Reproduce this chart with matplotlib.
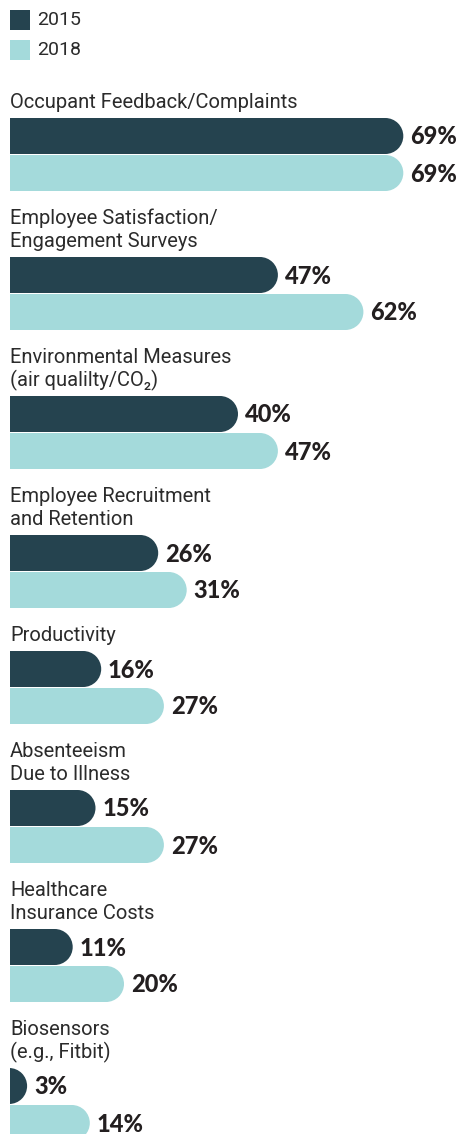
import matplotlib.pyplot as plt
from matplotlib.patches import Ellipse, Rectangle

# data
labels = ['Occupant Feedback/Complaints',
          'Employee Satisfaction/\nEngagement Surveys',
          'Environmental Measures\n(air qualilty/CO\u2082)',
          'Employee Recruitment\nand Retention',
          'Productivity',
          'Absenteeism\nDue to Illness',
          'Healthcare\nInsurance Costs',
          'Biosensors\n(e.g., Fitbit)']
vals_2015 = [69, 47, 40, 26, 16, 15, 11, 3]
vals_2018 = [69, 62, 47, 31, 27, 27, 20, 14]
years = ['2015', '2018']

dark = '#25434f'
light = '#a4dadb'
txt = '#2b2b2b'
label_font = ['Roboto', 'DejaVu Sans']
value_font = ['Lato', 'DejaVu Sans']

W, H = 463, 1134
px_per_pct = 5.7          # horizontal scale
bar_h = 36                # px
bar_pitch = 37
line_h = 23
pad = 20

fig = plt.figure(figsize=(W / 100, H / 100), dpi=100)
# axes starts where the bars start, so the left side of the bars is flat
ax = fig.add_axes([10 / W, 0, (W - 10) / W, 1])
ax.set_xlim(0, (W - 10) / px_per_pct)
ax.set_ylim(H, 0)
ax.axis('off')

r = bar_h / 2 / px_per_pct  # cap radius in percent units


def rounded_bar(v, yc, color):
    ax.add_patch(Rectangle((-r, yc - bar_h / 2), v, bar_h, color=color, lw=0))
    ax.add_patch(Ellipse((v - r, yc), 2 * r, bar_h, color=color, lw=0))
    ax.text(v + 1.2, yc + 1, f'{v}%', family=value_font, weight='black',
            fontsize=17, color='#231f20', va='center', ha='left')


# legend
for i, (yr, c) in enumerate(zip(years, [dark, light])):
    ax.add_patch(Rectangle((0, 10 + 30 * i), 20 / px_per_pct, 20, color=c, lw=0))
    ax.text(27 / px_per_pct, 20 + 30 * i, yr, family=label_font, fontsize=14,
            color=txt, va='center', ha='left')

y = 118 - line_h  # top of first bar minus one label line
for lab, a, b in zip(labels, vals_2015, vals_2018):
    n = lab.count('\n') + 1
    top = y + n * line_h
    lines = lab.split('\n')
    for k, ln in enumerate(lines):
        ax.text(0, top - 10 - (n - 1 - k) * line_h, ln, family=label_font,
                fontsize=14.5, color=txt, va='baseline', ha='left')
    rounded_bar(a, top + bar_h / 2, dark)
    rounded_bar(b, top + bar_h / 2 + bar_pitch, light)
    y = top + bar_h + bar_pitch + pad

fig.savefig('out.png', dpi=100)
